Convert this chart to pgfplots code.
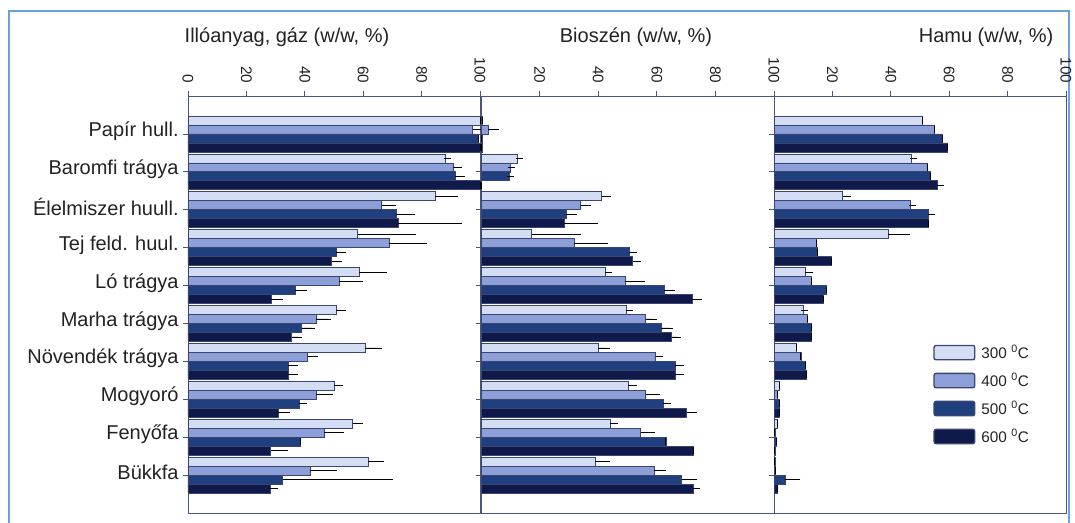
\documentclass[border=0pt]{standalone}
\usepackage{fontspec}
\setmainfont{Liberation Sans}
\usepackage{pgfplots}
\usepackage{pgfplotstable}
\pgfplotsset{compat=1.18}

\definecolor{cA}{HTML}{D3DDF3}
\definecolor{cB}{HTML}{8C9FD9}
\definecolor{cC}{HTML}{203F7E}
\definecolor{cD}{HTML}{101A4A}
\definecolor{cedge}{HTML}{3A4570}
\definecolor{caxis}{HTML}{4A5580}
\definecolor{cframe}{HTML}{6AA3DC}
\definecolor{ctext}{HTML}{222222}

% i = category (1 = Papír hull. ... 10 = Bükkfa); vN = mean, eN = error (+)
\pgfplotstableread{
i  v3    e3    v4    e4    v5    e5    v6    e6
1  100   0     97.5  5     99.5  0     100   0
2  88    1     90.8  1.7   91.4  2.3   100   0
3  84.6  6.8   66.3  3.9   71.4  5.2   71.9  20.6
4  58.1  18.9  68.8  12    50.7  2.3   49.2  2.5
5  58.7  8.1   51.8  7.1   36.6  3.1   28.4  2.9
6  50.7  2.3   44    3.8   38.9  3.4   35.5  2.3
7  60.6  4.6   41    2.5   34.4  2.2   34.4  2.2
8  50    1.8   44    4.4   38.1  1.6   30.9  2.7
9  56.4  2.5   46.6  5.7   38.4  0     28.3  4.9
10 61.8  4     41.8  8     32.4  36.6  28.1  1.7
}\voldata

\pgfplotstableread{
i  v3    e3    v4    e4    v5    e5    v6    e6
1  0.5   0     2.5   2.5   0.3   0     0.3   0
2  12.5  0.5   10    0.3   9.7   0.3   0     0
3  41.2  2     34    2.3   29    2.7   28.4  10.3
4  17.3  15.6  31.9  10.2  50.5  1.5   51.8  1.5
5  42.3  1.2   49.1  5.7   62.6  2.5   72    2.4
6  49.7  0.9   56.2  2.6   61.4  2.9   65.1  2
7  40    2.7   59.6  1.5   66.2  2     66.2  2
8  50.3  1.7   56.2  3.8   62.2  1.4   70.2  2.3
9  44    1.7   54.5  3.8   63.1  0     72.5  0
10 38.9  3.8   59    3     68.5  4.2   72.5  1.1
}\chardata

\pgfplotstableread{
i  v3    e3    v4    e4    v5    e5    v6    e6
1  50.9  0     54.9  0     57.6  0     59.4  0
2  47.1  0.6   52.6  0     53.6  0     55.9  1.3
3  23.5  1.7   46.6  0.9   52.9  1.1   52.9  0
4  39.2  6.2   14.6  0     15    0     19.5  0
5  10.6  1.7   12.9  0     17.8  0     16.9  0
6  10    0.5   11.4  0     12.9  0     12.9  0
7  7.8   0     9.2   0     10.6  0     11.2  0
8  1.8   0     1.1   0     1.8   0     1.8   0
9  1.1   0     0.3   0     0.9   0     0.3   0
10 0.3   0     0.5   0     3.8   4     1.1   0
}\ashdata

\pgfplotsset{
  panel/.style={
    scale only axis, width=219pt, height=312.75pt,
    anchor=south west,
    xmin=0, xmax=100, ymin=0, ymax=11, y dir=reverse,
    xtick={0,20,...,100},
    ytick={1,...,10}, yticklabels={},
    xtick pos=right, xticklabel pos=right, ytick pos=left,
    tick align=outside, major tick length=3.5pt,
    tick style={draw=caxis, line width=0.6pt},
    axis line style={draw=caxis, line width=0.7pt},
    /pgf/number format/assume math mode=true,
    xticklabel shift=2.5pt,
    xticklabel style={rotate=-90, anchor=east, text=ctext,
      font=\fontsize{11.5}{11.5}\selectfont},
    yticklabel style={text=ctext, yshift=2pt, font=\fontsize{15}{15}\selectfont},
    clip=false,
  },
  barbase/.style={xbar, bar width=0.237, bar shift=0pt, draw=cedge, line width=0.5pt,
    legend image code/.code={\draw[##1, rounded corners=1.5pt, line width=1pt]
      (0pt,-5.4pt) rectangle (30.5pt,5.4pt);},
    error bars/x dir=plus, error bars/x explicit, error bars/error mark=-,
    error bars/error bar style={black, line width=0.6pt},
    error bars/error mark options={black, line width=0.6pt, mark size=2.6pt}},
  sA/.style={barbase, fill=cA},
  sB/.style={barbase, fill=cB},
  sC/.style={barbase, fill=cC},
  sD/.style={barbase, fill=cD},
}

\newcommand{\fourbars}[1]{%
  \addplot[sA] table[x=v3, y expr=\thisrow{i}-0.355, x error=e3] {#1};
  \addplot[sB] table[x=v4, y expr=\thisrow{i}-0.118, x error=e4] {#1};
  \addplot[sC] table[x=v5, y expr=\thisrow{i}+0.118, x error=e5] {#1};
  \addplot[sD] table[x=v6, y expr=\thisrow{i}+0.355, x error=e6] {#1};
}

\begin{document}
\begin{tikzpicture}[x=0.75pt, y=0.75pt]
\useasboundingbox (0,0) rectangle (1075,522);
\draw[cframe, line width=1.5pt] (9,-30) rectangle (1069,511);

\node[anchor=base west, text=ctext, font=\fontsize{15}{15}\selectfont] at (180,479) {Illóanyag, gáz (w/w, \%)};
\node[anchor=base, text=ctext, font=\fontsize{15}{15}\selectfont] at (636,479) {Bioszén (w/w, \%)};
\node[anchor=base east, text=ctext, font=\fontsize{15}{15}\selectfont] at (1058,479) {Hamu (w/w, \%)};

\begin{axis}[panel, at={(141pt,6.75pt)},
  yticklabels={Papír hull., Baromfi trágya, Élelmiszer huull., Tej feld. huul.,
    Ló trágya, Marha trágya, Növendék trágya, Mogyoró, Fenyőfa, Bükkfa}]
  \fourbars{\voldata}
\end{axis}

\begin{axis}[panel, at={(360.75pt,6.75pt)}, width=219.75pt, xtick={20,40,...,100}]
  \fourbars{\chardata}
\end{axis}

\begin{axis}[panel, at={(580.5pt,6.75pt)}, xtick={20,40,...,100},
  legend style={at={(0.545,0.41)}, anchor=north west, draw=none, fill=none,
    font=\fontsize{11.5}{11.5}\selectfont, text=ctext, row sep=5.5pt,
    inner sep=0pt, nodes={inner xsep=4.5pt}},
  legend cell align=left]
  \fourbars{\ashdata}
  \legend{300 \textsuperscript{0}C, 400 \textsuperscript{0}C, 500 \textsuperscript{0}C, 600 \textsuperscript{0}C}
\end{axis}
\end{tikzpicture}
\end{document}
